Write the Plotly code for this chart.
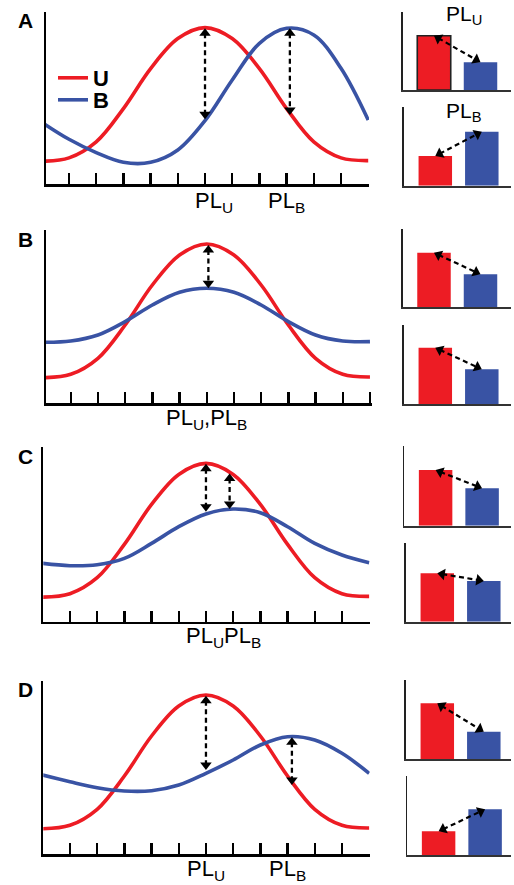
import math
import plotly.graph_objects as go

W, H = 514, 885
RED = "#ED1C24"
BLUE = "#3953A4"
FONT = "Liberation Sans, Arial, sans-serif"

# ---------------- data ----------------
PANELS = ["A", "B", "C", "D"]
TICKS = list(range(1, 13))
CURVE_X = [0, 1, 2, 3, 4, 5, 6, 7, 8, 9, 10, 11, 12]

U_A = [23.0, 26.4, 42.4, 75.7, 115.7, 145.7, 156.7, 145.7, 115.7, 75.7, 42.4, 26.4, 23.7]
B_A = [62.0, 45.0, 31.7, 22.0, 22.0, 34.3, 63.7, 104.3, 141.0, 156.0, 149.3, 116.0, 64.3]
U_B = [25.6, 29.0, 45.0, 78.3, 118.3, 148.3, 159.3, 148.3, 118.3, 78.3, 45.0, 29.0, 26.3]
B_B = [61.0, 62.3, 68.3, 81.7, 98.3, 111.0, 115.0, 111.0, 98.3, 81.7, 68.3, 62.3, 61.7]
U_C = [24.6, 28.0, 44.0, 77.3, 117.3, 147.3, 158.3, 147.3, 117.3, 77.3, 44.0, 28.0, 25.3]
B_C = [58.3, 56.0, 57.0, 63.3, 78.3, 95.0, 107.7, 112.7, 109.0, 95.0, 78.3, 66.7, 59.0]
U_D = [25.3, 28.7, 44.7, 78.0, 118.0, 148.0, 159.0, 148.0, 118.0, 78.0, 44.7, 28.7, 26.0]
B_D = [79.0, 72.3, 66.3, 63.0, 63.3, 69.0, 80.7, 94.0, 109.0, 117.3, 114.0, 100.7, 80.7]
U_CURVES = [U_A, U_B, U_C, U_D]
B_CURVES = [B_A, B_B, B_C, B_D]

# vertical difference arrows: (x, top tip, bottom tip)
ARROWS_A = [(6.0, 156.0, 65.0), (9.12, 156.0, 69.3)]
ARROWS_B = [(6.06, 158.3, 115.0)]
ARROWS_C = [(6.0, 158.0, 110.0), (6.87, 148.3, 112.7)]
ARROWS_D = [(6.0, 158.3, 84.0), (9.16, 116.7, 69.0)]
LINE_ARROWS = [ARROWS_A, ARROWS_B, ARROWS_C, ARROWS_D]

# x-axis labels: (text, left edge in x units)
LABELS_A = [("PL<sub>U</sub>", 5.62), ("PL<sub>B</sub>", 8.3)]
LABELS_B = [("PL<sub>U</sub>,PL<sub>B</sub>", 4.5)]
LABELS_C = [("PL<sub>U</sub>PL<sub>B</sub>", 5.25)]
LABELS_D = [("PL<sub>U</sub>", 5.3), ("PL<sub>B</sub>", 8.3)]
LINE_LABELS = [LABELS_A, LABELS_B, LABELS_C, LABELS_D]

# bar panels (two per row): U bar, B bar heights
BAR_CATS = [1, 2]
BAR_U = [54.3, 29.7, 54.6, 56.3, 55.7, 48.4, 55.7, 23.7]
BAR_B = [27.7, 54.0, 33.0, 34.7, 37.4, 40.7, 27.3, 45.7]
BAR_TITLES = ["PL<sub>U</sub>", "PL<sub>B</sub>"]

# ---------------- layout geometry (pixels) ----------------
LINE_GEOM = [
    ((46, 369), (11.7, 184.3), 0.154),
    ((46, 372), (230, 403.3), 0.09),
    ((43.3, 369.7), (446.7, 621.7), 0.02),
    ((43.3, 369.7), (680.7, 854), 0.02),
]
TICK_PX = 27.2
BAR_GEOM = [
    ((402.7, 510.7), (11.7, 90)),
    ((404, 510.7), (107.3, 185.7)),
    ((402.7, 510.7), (229, 307.3)),
    ((404, 510.7), (325, 404)),
    ((404.3, 510.7), (446, 525.7)),
    ((406, 510.7), (542.7, 621.7)),
    ((406, 510.7), (680, 759)),
    ((407.3, 510.7), (776, 855)),
]
BAR_UNIT = 46.5
BAR_OFF = 31.3
LETTER_Y = [20.5, 239, 456.5, 689.5]
LABEL_Y = [201.5, 419, 636.5, 869.5]
BAR_TITLE_POS = [(445.5, 15.0), (445.5, 111.5)]


def dom_x(a, b):
    return [a / W, b / W]


def dom_y(top, bot):
    return [1 - bot / H, 1 - top / H]


fig = go.Figure()
layout = dict(
    width=W, height=H, margin=dict(l=0, r=0, t=0, b=0, pad=0),
    paper_bgcolor="white", plot_bgcolor="white",
    font=dict(family=FONT, color="black"),
    hovermode=False,
)
annotations = []

R = 5.0  # arrow head "radius" (half marker size)


def add_arrow(xa, ya, tip1, tip2, sx, sy, width=2.3):
    x1, y1 = tip1
    x2, y2 = tip2
    dxp = (x1 - x2) * sx
    dyp = -(y1 - y2) * sy
    L = math.hypot(dxp, dyp)
    ux, uy = dxp / L, dyp / L
    c1 = (x1 - ux * R / sx, y1 + uy * R / sy)
    c2 = (x2 + ux * R / sx, y2 - uy * R / sy)
    a1 = math.degrees(math.atan2(ux, -uy))
    a2 = math.degrees(math.atan2(-ux, uy))
    fig.add_trace(go.Scatter(
        x=[c1[0], c2[0]], y=[c1[1], c2[1]], xaxis=xa, yaxis=ya,
        mode="lines+markers", showlegend=False,
        line=dict(color="black", width=width, dash="5px,3.5px"),
        marker=dict(symbol="triangle-up", size=2 * R, color="black",
                    angle=[a1, a2], line=dict(width=0)),
    ))


# ---------------- line panels ----------------
for i in range(4):
    n = i + 1
    (px0, px1), (py0, py1), x0 = LINE_GEOM[i]
    xr = [x0, x0 + (px1 - px0) / TICK_PX]
    yr = [0, py1 - py0]
    xa, ya = f"x{n}", f"y{n}"
    sfx = "" if n == 1 else str(n)
    layout["xaxis" + sfx] = dict(
        domain=dom_x(px0, px1), range=xr, anchor=ya, showgrid=False, zeroline=False,
        showline=True, linecolor="black", linewidth=2.5,
        ticks="inside", ticklen=11, tickwidth=2.3, tickcolor="black",
        tickvals=TICKS, showticklabels=False, fixedrange=True)
    layout["yaxis" + sfx] = dict(
        domain=dom_y(py0, py1), range=yr, anchor=xa, showgrid=False, zeroline=False,
        showline=True, linecolor="black", linewidth=2.5, ticks="",
        showticklabels=False, fixedrange=True)
    fig.add_trace(go.Scatter(
        x=CURVE_X, y=U_CURVES[i], xaxis=xa, yaxis=ya, mode="lines", name="U",
        line=dict(color=RED, width=3.6, shape="spline"), showlegend=(i == 0),
        legend="legend"))
    fig.add_trace(go.Scatter(
        x=CURVE_X, y=B_CURVES[i], xaxis=xa, yaxis=ya, mode="lines", name="B",
        line=dict(color=BLUE, width=3.6, shape="spline"), showlegend=(i == 0),
        legend="legend2"))
    for (ax_, top, bot) in LINE_ARROWS[i]:
        add_arrow(xa, ya, (ax_, top), (ax_, bot), TICK_PX, 1.0)
    for text, lx in LINE_LABELS[i]:
        annotations.append(dict(
            text=text, x=lx, xref=xa, xanchor="left",
            y=1 - LABEL_Y[i] / H, yref="paper", yanchor="middle",
            showarrow=False, borderpad=0, borderwidth=0,
            font=dict(size=22, family=FONT, color="black")))
    annotations.append(dict(
        text=PANELS[i], x=17.5 / W, xref="paper", xanchor="left",
        y=1 - LETTER_Y[i] / H, yref="paper", yanchor="middle",
        showarrow=False, borderpad=0, borderwidth=0,
        font=dict(size=21, family=FONT, color="black", weight="bold")))

# ---------------- bar panels ----------------
for j in range(8):
    n = 5 + j
    (px0, px1), (py0, py1) = BAR_GEOM[j]
    bx0 = 1 - BAR_OFF / BAR_UNIT
    xr = [bx0, bx0 + (px1 - px0) / BAR_UNIT]
    yr = [0, py1 - py0]
    xa, ya = f"x{n}", f"y{n}"
    layout[f"xaxis{n}"] = dict(
        domain=dom_x(px0, px1), range=xr, anchor=ya, showgrid=False, zeroline=False,
        showline=True, linecolor="#333333", linewidth=1.8, ticks="",
        showticklabels=False, fixedrange=True)
    layout[f"yaxis{n}"] = dict(
        domain=dom_y(py0, py1), range=yr, anchor=xa, showgrid=False, zeroline=False,
        showline=True, linecolor="#222222", linewidth=1.6, ticks="",
        showticklabels=False, fixedrange=True)
    outline = [1.6 if j == 0 else 0, 0]
    fig.add_trace(go.Bar(
        x=BAR_CATS, y=[BAR_U[j], BAR_B[j]], xaxis=xa, yaxis=ya, width=0.72,
        showlegend=False,
        marker=dict(color=[RED, BLUE], line=dict(color=["#222222", BLUE], width=outline))))
    add_arrow(xa, ya, (BAR_CATS[0], BAR_U[j]), (BAR_CATS[1], BAR_B[j]), BAR_UNIT, 1.0, width=2.2)

for text, (tx, ty) in zip(BAR_TITLES, BAR_TITLE_POS):
    annotations.append(dict(
        text=text, x=tx / W, xref="paper", xanchor="left",
        y=1 - ty / H, yref="paper", yanchor="middle",
        showarrow=False, borderpad=0, borderwidth=0,
        font=dict(size=21, family=FONT, color="black")))

layout["annotations"] = annotations
layout["showlegend"] = True
leg_common = dict(
    x=53 / W, xanchor="left", yanchor="top",
    bgcolor="rgba(0,0,0,0)", borderwidth=0, itemwidth=30, tracegroupgap=0,
    font=dict(size=22, family=FONT, color="black", weight="bold"))
layout["legend"] = dict(y=1 - 57 / H, **leg_common)
layout["legend2"] = dict(y=1 - 79 / H, **leg_common)
fig.update_layout(**layout)
fig.write_html("out.html", config={"displayModeBar": False, "staticPlot": True})
